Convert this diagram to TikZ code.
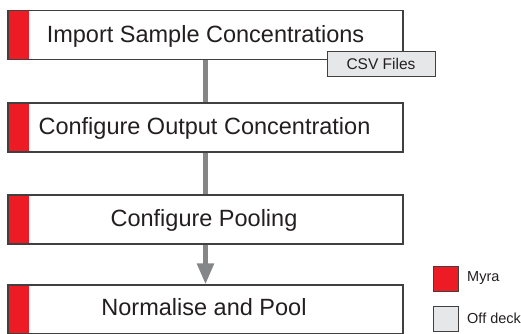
\documentclass[tikz,border=0pt]{standalone}
\usepackage{fontspec}
\setmainfont{Liberation Sans}
\usetikzlibrary{arrows.meta}
\definecolor{myred}{HTML}{ED1C24}
\definecolor{edge}{HTML}{404041}
\definecolor{conn}{HTML}{858688}
\definecolor{offdeck}{HTML}{E6E7E8}
\definecolor{txt}{HTML}{231F20}
\begin{document}
\begin{tikzpicture}[x=1pt,y=-1pt,
  stepbox/.style={draw=edge,line width=1.1pt,fill=white,minimum width=395pt,minimum height=49pt,inner sep=0pt,
    path picture={\fill[myred] (path picture bounding box.north west) rectangle ([xshift=21pt]path picture bounding box.south west);}},
  steptext/.style={anchor=base,text=txt,font=\fontsize{23.5}{26}\selectfont,inner sep=0pt},
  conline/.style={draw=conn,line width=5pt},
  legbox/.style={draw=edge,line width=1pt,minimum width=25pt,minimum height=25pt,inner sep=0pt},
  legtext/.style={anchor=west,text=txt,font=\fontsize{14.5}{16}\selectfont,inner sep=0pt}]
\useasboundingbox (0,0) rectangle (521,333);
\node[stepbox] (b1) at (205.5,35) {};
\node[stepbox] (b2) at (205.5,127.5) {};
\node[stepbox] (b3) at (205.5,219.5) {};
\node[stepbox] (b4) at (205.5,309.5) {};
\draw[conline] (b1.south) -- (b2.north);
\draw[conline] (b2.south) -- (b3.north);
\draw[conline,-{Triangle[width=16pt,length=21pt]}] (b3.south) -- (b4.north);
\node[steptext] (t1) at (205.5,42.5) {Import Sample Concentrations};
\node[steptext] (t2) at (204.5,134) {Configure Output Concentration};
\node[steptext] (t3) at (204,226) {Configure Pooling};
\node[steptext] (t4) at (204,315) {Normalise and Pool};
\node[draw=edge,line width=1pt,fill=offdeck,minimum width=108pt,minimum height=25pt,inner sep=0pt,text=txt,font=\fontsize{15.5}{17}\selectfont] (csv) at (381,63.5) {CSV Files};
\node[legbox,fill=myred] (l1) at (445.5,278.5) {};
\node[legbox,fill=offdeck] (l2) at (445.5,318.5) {};
\node[legtext] (lt1) at (467,278.5) {Myra};
\node[legtext] (lt2) at (467,318.5) {Off deck};
\end{tikzpicture}
\end{document}
